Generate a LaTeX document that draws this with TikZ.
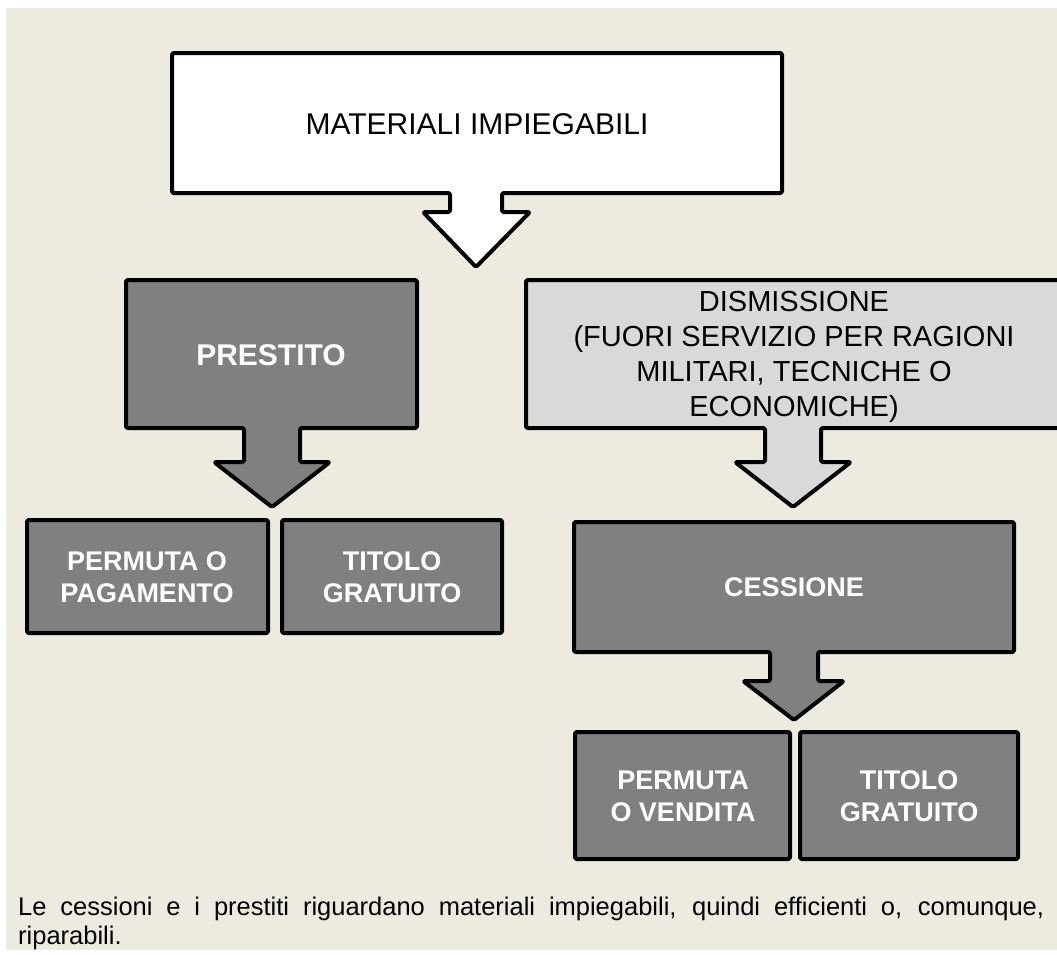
\documentclass[tikz,border=0pt]{standalone}
\usepackage{fontspec}
\setmainfont{Liberation Sans}
\definecolor{paper}{HTML}{EDEBE0}
\definecolor{darkbox}{HTML}{808080}
\definecolor{lightbox}{HTML}{D9D9D9}
\begin{document}
\begin{tikzpicture}[x=1pt,y=-1pt,
  panel/.style={draw=black,line width=4pt,line join=round,rounded corners=1.5pt},
  darkpanel/.style={panel,fill=darkbox},
  lightpanel/.style={panel,fill=lightbox},
  whitepanel/.style={panel,fill=white},
  boldlabel/.style={inner sep=0pt,align=center,text=white,
    font=\fontsize{27}{32}\selectfont\bfseries},
  plainlabel/.style={inner sep=0pt,align=center,text=black}]
\useasboundingbox (0,0) rectangle (1057,954);
\fill[paper] (6,8) rectangle (1057,950);

% top box with its hollow arrow
\draw[whitepanel] (172,53) -- (782,53) -- (782,193) -- (502,193) -- (502,212)
  -- (530,212) -- (476,267) -- (423,212) -- (450,212) -- (450,193)
  -- (172,193) -- cycle;
\node[plainlabel,font=\fontsize{30}{36}\selectfont] (mat) at (477,124)
  {MATERIALI IMPIEGABILI};

% left branch: loan
\draw[darkpanel] (126,280) -- (417,280) -- (417,428) -- (300,428) -- (300,462)
  -- (330,462) -- (272,507) -- (214,462) -- (244,462) -- (244,428)
  -- (126,428) -- cycle;
\node[boldlabel,font=\fontsize{30}{32}\selectfont\bfseries] (prestito) at (271,355) {PRESTITO};

\draw[darkpanel] (27,520) rectangle (268,633);
\node[boldlabel] (permpag) at (147,577) {PERMUTA O\\PAGAMENTO};
\draw[darkpanel] (282,520) rectangle (502,633);
\node[boldlabel] (gratis1) at (392,577) {TITOLO\\GRATUITO};

% right branch: disposal
\draw[lightpanel] (526,280) -- (1062,280) -- (1062,428) -- (821,428) -- (821,462)
  -- (851,462) -- (793,507) -- (735,462) -- (765,462) -- (765,428)
  -- (526,428) -- cycle;
\node[plainlabel,font=\fontsize{29}{35}\selectfont] (dism) at (794,357)
  {DISMISSIONE\\(FUORI SERVIZIO PER RAGIONI\\MILITARI, TECNICHE O\\ECONOMICHE)};

\draw[darkpanel] (574,522) -- (1014,522) -- (1014,652) -- (818,652) -- (818,681)
  -- (844,681) -- (794,720) -- (743,681) -- (770,681) -- (770,652)
  -- (574,652) -- cycle;
\node[boldlabel] (cess) at (794,587) {CESSIONE};

\draw[darkpanel] (575,732) rectangle (790,859);
\node[boldlabel] (permvend) at (683,796) {PERMUTA\\O VENDITA};
\draw[darkpanel] (800,732) rectangle (1018,859);
\node[boldlabel] (gratis2) at (909,796) {TITOLO\\GRATUITO};

% note below the chart
\node[inner sep=0pt,anchor=north west,text width=1026pt,align=justify,
  font=\fontsize{25.5}{29}\selectfont] (note) at (18,897)
  {Le cessioni e i prestiti riguardano materiali impiegabili, quindi efficienti o, comunque,\linebreak riparabili.};
\end{tikzpicture}
\end{document}
